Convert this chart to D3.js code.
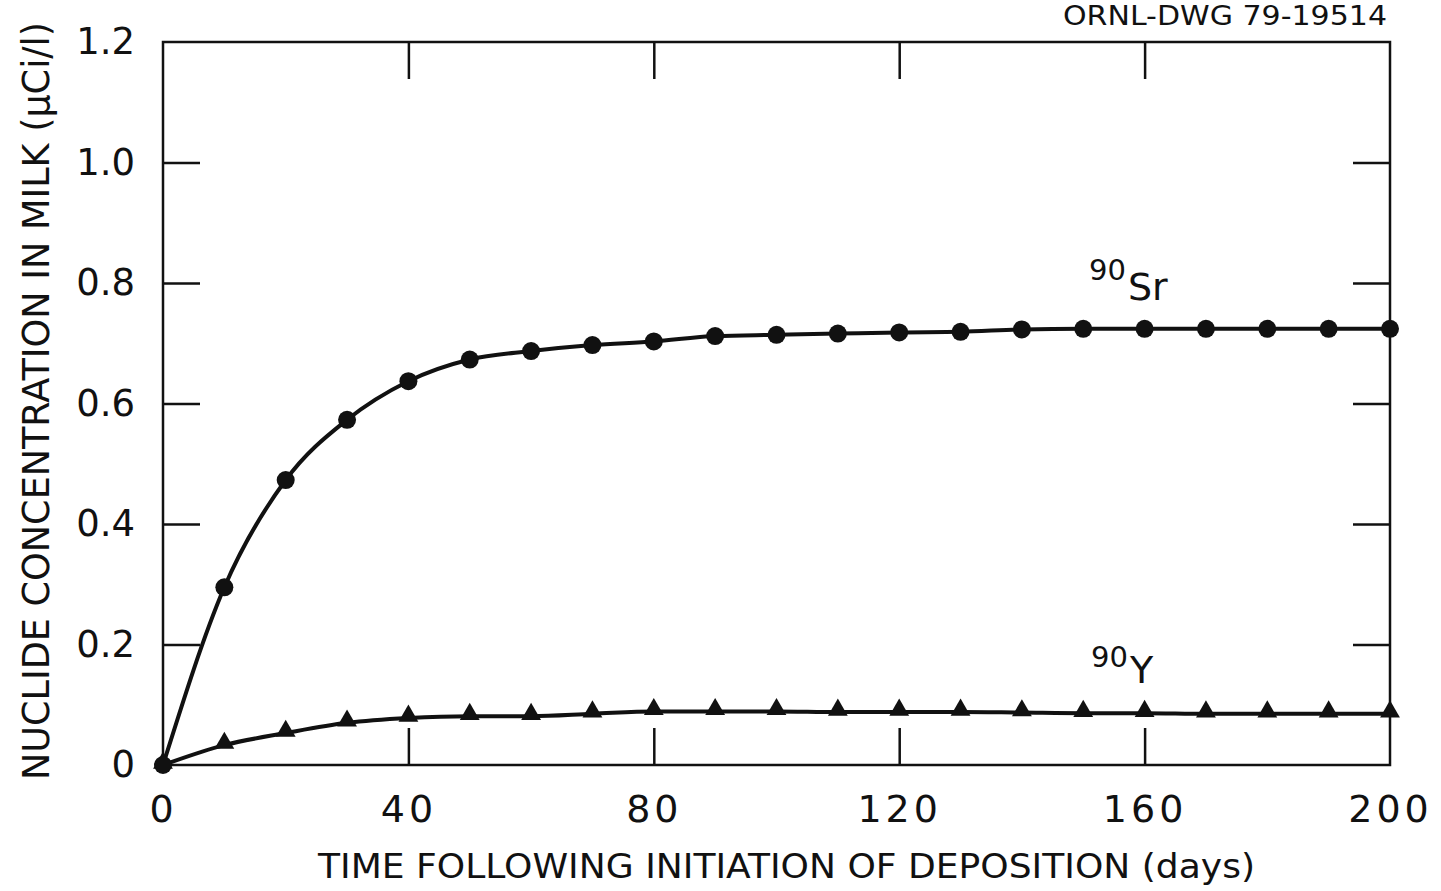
<!DOCTYPE html>
<html>
<head>
<meta charset="utf-8">
<script src="https://cdn.jsdelivr.net/npm/d3@7"></script>
<style>
  body { margin: 0; background: #fff; }
  svg text { font-family: "DejaVu Sans", sans-serif; fill: #111; }
</style>
</head>
<body>
<div id="chart"></div>
<script>
const width = 1441;
const height = 891;

// days after deposition starts
const days = [0, 10, 20, 30, 40, 50, 60, 70, 80, 90, 100, 110, 120, 130, 140, 150, 160, 170, 180, 190, 200];
// 90Sr in milk (uCi/l)
const srValues = [0, 0.295, 0.473, 0.573, 0.637, 0.673, 0.687, 0.697, 0.703, 0.712, 0.714, 0.716, 0.718, 0.719, 0.723, 0.724, 0.724, 0.724, 0.724, 0.724, 0.724];
// 90Y in milk (uCi/l)
const yValues = [0, 0.033, 0.053, 0.070, 0.078, 0.081, 0.081, 0.085, 0.089, 0.089, 0.089, 0.088, 0.088, 0.088, 0.087, 0.086, 0.086, 0.085, 0.085, 0.085, 0.085];

const xTicks = [0, 40, 80, 120, 160, 200];
const yTicks = [0, 0.2, 0.4, 0.6, 0.8, 1.0, 1.2];

const margin = {top: 42, right: 51, bottom: 126, left: 163};

const svg = d3.select("#chart")
    .append("svg")
    .attr("width", width)
    .attr("height", height);

const x = d3.scaleLinear()
    .domain([0, 200])
    .range([margin.left, width - margin.right]);

const y = d3.scaleLinear()
    .domain([0, 1.2])
    .range([height - margin.bottom, margin.top]);

const tickLen = 37;
const inner = v => v !== 0 && v !== 200 && v !== 1.2;

// frame
svg.append("rect")
    .attr("x", x(0))
    .attr("y", y(1.2))
    .attr("width", x(200) - x(0))
    .attr("height", y(0) - y(1.2))
    .attr("fill", "none")
    .attr("stroke", "#111")
    .attr("stroke-width", 2.5);

const fmtY = d => d === 0 ? "0" : d.toFixed(1);

// tick labels
const bottom = svg.append("g")
    .attr("transform", `translate(0,${y(0)})`)
    .call(d3.axisBottom(x).tickValues(xTicks).tickSize(0).tickPadding(30).tickFormat(d3.format("d")));
bottom.select(".domain").remove();
bottom.selectAll("text")
    .attr("font-size", 38)
    .attr("letter-spacing", 4)
    .attr("font-family", null);

const left = svg.append("g")
    .attr("transform", `translate(${x(0)},0)`)
    .call(d3.axisLeft(y).tickValues(yTicks).tickSize(0).tickPadding(28).tickFormat(fmtY));
left.select(".domain").remove();
left.selectAll("text")
    .attr("font-size", 37)
    .attr("letter-spacing", 0)
    .attr("font-family", null);

// inward ticks on all four sides
const tickStyle = sel => sel.attr("stroke", "#111").attr("stroke-width", 2.5);
svg.append("g").call(d3.axisBottom(x).tickValues(xTicks.filter(inner)).tickSize(-tickLen).tickFormat(""))
    .attr("transform", `translate(0,${y(0)})`)
    .call(g => g.select(".domain").remove())
    .selectAll("line").call(tickStyle);
svg.append("g").call(d3.axisTop(x).tickValues(xTicks.filter(inner)).tickSize(-tickLen).tickFormat(""))
    .attr("transform", `translate(0,${y(1.2)})`)
    .call(g => g.select(".domain").remove())
    .selectAll("line").call(tickStyle);
svg.append("g").call(d3.axisLeft(y).tickValues(yTicks.filter(v => v !== 0 && v !== 1.2)).tickSize(-tickLen).tickFormat(""))
    .attr("transform", `translate(${x(0)},0)`)
    .call(g => g.select(".domain").remove())
    .selectAll("line").call(tickStyle);
svg.append("g").call(d3.axisRight(y).tickValues(yTicks.filter(v => v !== 0 && v !== 1.2)).tickSize(-tickLen).tickFormat(""))
    .attr("transform", `translate(${x(200)},0)`)
    .call(g => g.select(".domain").remove())
    .selectAll("line").call(tickStyle);

// curves
const line = d3.line()
    .x((d, i) => x(days[i]))
    .y(d => y(d))
    .curve(d3.curveMonotoneX);

svg.append("path")
    .attr("d", line(srValues))
    .attr("fill", "none")
    .attr("stroke", "#111")
    .attr("stroke-width", 4);

svg.append("path")
    .attr("d", line(yValues))
    .attr("fill", "none")
    .attr("stroke", "#111")
    .attr("stroke-width", 4);

// markers
svg.append("g")
    .selectAll("path")
    .data(yValues)
    .join("path")
    .attr("d", d3.symbol(d3.symbolTriangle, 170))
    .attr("transform", (d, i) => `translate(${x(days[i])},${y(d) - 2})`)
    .attr("fill", "#111");

svg.append("g")
    .selectAll("circle")
    .data(srValues)
    .join("circle")
    .attr("cx", (d, i) => x(days[i]))
    .attr("cy", d => y(d))
    .attr("r", 9)
    .attr("fill", "#111");

// axis titles
svg.append("text")
    .attr("x", 318)
    .attr("y", 878)
    .attr("font-size", 34)
    .attr("textLength", 937)
    .attr("lengthAdjust", "spacingAndGlyphs")
    .text("TIME FOLLOWING INITIATION OF DEPOSITION (days)");

svg.append("text")
    .attr("transform", "translate(49,780) rotate(-90)")
    .attr("font-size", 37)
    .attr("textLength", 758)
    .attr("lengthAdjust", "spacingAndGlyphs")
    .text("NUCLIDE CONCENTRATION IN MILK (μCi/l)");

svg.append("text")
    .attr("x", 1063)
    .attr("y", 25)
    .attr("font-size", 27)
    .attr("textLength", 324)
    .attr("lengthAdjust", "spacingAndGlyphs")
    .text("ORNL-DWG 79-19514");

// series labels
const srLabel = svg.append("text").attr("x", 1089).attr("y", 300);
srLabel.append("tspan").attr("font-size", 29).attr("dy", -20).text("90");
srLabel.append("tspan").attr("font-size", 38).attr("dy", 20).attr("dx", 2).text("Sr");

const yLabel = svg.append("text").attr("x", 1091).attr("y", 683);
yLabel.append("tspan").attr("font-size", 29).attr("dy", -16).text("90");
yLabel.append("tspan").attr("font-size", 38).attr("dy", 16).attr("dx", 2).text("Y");
</script>
</body>
</html>
